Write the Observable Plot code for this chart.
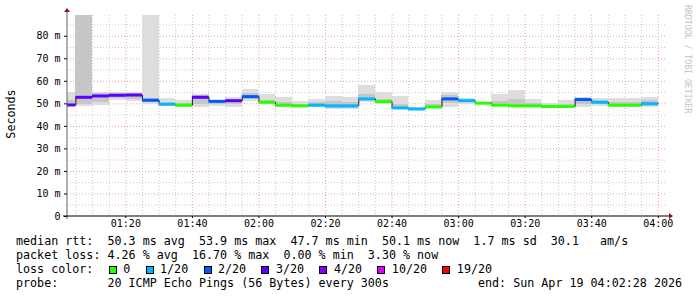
<!DOCTYPE html>
<html><head><meta charset="utf-8">
<script src="https://cdn.jsdelivr.net/npm/d3@7"></script>
<script src="https://cdn.jsdelivr.net/npm/@observablehq/plot@0.6"></script>
<style>
body{margin:0;background:#fff;}
#wrap{position:relative;width:697px;height:297px;overflow:hidden;font-family:"DejaVu Sans Mono",monospace;color:#000;}
#wrap svg{position:absolute;left:0;top:0;}
.row{position:absolute;left:16px;font-size:11.7px;line-height:14px;height:14px;white-space:pre;}
.sq{display:inline-block;width:8px;height:8px;box-sizing:border-box;border:1px solid #000;vertical-align:-1px;margin-right:6.5px;}
.lab{margin-right:15.3px;}
#ylab{position:absolute;left:11px;top:114px;font-size:11.7px;white-space:pre;transform:translate(-50%,-50%) rotate(-90deg);}
#credit{position:absolute;left:683px;top:5px;font-size:8.2px;color:#c4c4c4;writing-mode:vertical-rl;white-space:pre;}
</style></head><body><div id="wrap"></div>
<script>
// 5-minute RRD slot boundaries (each value covers slot[i] .. slot[i+1])
const slots = ["01:00","01:05","01:10","01:15","01:20","01:25","01:30","01:35","01:40","01:45",
  "01:50","01:55","02:00","02:05","02:10","02:15","02:20","02:25","02:30","02:35",
  "02:40","02:45","02:50","02:55","03:00","03:05","03:10","03:15","03:20","03:25",
  "03:30","03:35","03:40","03:45","03:50","03:55","04:00"];
// median RTT (ms)
const median = [49.5,52.9,53.5,53.8,53.9,51.6,49.8,49.4,52.9,51.1,
  51.4,53.2,50.7,49.4,49.1,49.4,49.1,49.1,52.2,51.0,
  48.2,47.7,48.6,52.2,51.4,50.3,49.4,49.1,49.1,48.8,
  48.8,51.9,50.7,49.4,49.4,50.1];
// lost pings out of 20
const lost = [3,3,3,3,3,2,1,0,3,2,
  3,2,0,0,0,1,1,1,1,0,
  1,1,0,2,1,0,0,0,0,0,
  0,2,1,0,0,1];
// smoke: min / max of the 20 pings (ms)
const smokeMin = [48.8,48.8,49.2,51.4,51.1,49.7,49.1,48.5,48.5,48.8,
  48.5,51.1,49.7,48.5,48.8,48.5,47.3,47.3,50.7,49.7,
  47.8,47.2,47.8,48.5,49.7,50.0,48.8,48.8,48.8,48.5,
  48.5,48.5,48.8,48.5,48.5,48.5];
const smokeMax = [55.1,100,55.1,54.9,55.1,100,52.2,51.4,54.1,51.7,
  52.6,56.2,54.0,52.8,51.0,51.9,53.2,52.9,58.2,55.1,
  53.2,48.3,51.4,55.1,52.2,50.8,54.1,55.9,51.9,50.0,
  51.4,52.6,52.3,52.2,52.2,52.8];
// smoke: denser inner part (ms)
const smokeLo = [49.0,49.5,50.5,52.5,52.0,50.5,49.5,49.0,49.5,49.5,
  49.5,52.0,50.0,49.0,48.9,49.0,48.0,48.0,51.5,50.3,
  48.0,47.5,48.0,50.0,50.5,50.1,49.0,49.0,49.0,48.6,
  48.6,49.5,49.5,49.0,49.0,49.0];
const smokeHi = [51.5,100,54.5,54.5,54.5,52.5,50.8,50.2,53.5,51.3,
  52.0,54.5,51.5,50.5,49.8,50.5,51.0,50.5,54.0,52.0,
  49.5,48.0,49.5,53.5,51.8,50.6,51.0,52.0,50.0,49.2,
  49.5,52.2,51.5,50.5,50.5,51.5];
const yTicks = [0,10,20,30,40,50,60,70,80];
const lossLevels = [0,1,2,3,4,10,19];
const lossLabels = ["0","1/20","2/20","3/20","4/20","10/20","19/20"];
const lossColors = ["#26ff00","#00b8ff","#0059ff","#5e00ff","#7e00ff","#dd00ff","#ff0000"];
const rowMedian = "median rtt:  50.3 ms avg  53.9 ms max  47.7 ms min  50.1 ms now  1.7 ms sd  30.1   am/s";
const rowLoss = "packet loss: 4.26 % avg  16.70 % max  0.00 % min  3.30 % now";
const rowProbe = "probe:       20 ICMP Echo Pings (56 Bytes) every 300s";
const rowEnd = "end: Sun Apr 19 04:02:28 2026";
const startTime = "01:02:28", endTime = "04:02:28";

const T = s => new Date(Date.UTC(2026,3,19,+s.slice(0,2),+s.slice(3,5),+(s.slice(6,8)||0)));
const t0 = T(startTime), t1 = T(endTime);
const colorOf = l => lossColors[d3.bisectRight(lossLevels, l) - 1];
const rows = median.map((m,i)=>({x1:T(slots[i]), x2:T(slots[i+1]), m, loss:lost[i],
  lo:smokeMin[i], hi:smokeMax[i], ilo:smokeLo[i], ihi:smokeHi[i]}));
const stepPts = rows.map(r=>({x:r.x1,y:r.m})).concat([{x:rows[rows.length-1].x2, y:rows[rows.length-1].m}]);
const minor5 = d3.utcMinute.every(5).range(t0, t1);
const xMinor = minor5.filter(d=>d.getUTCMinutes()%20!==0);
const xMajor = minor5.filter(d=>d.getUTCMinutes()%20===0);
const yMinor = d3.range(5,90,10);
const yMajor = yTicks.filter(v=>v>0);

const plot = Plot.plot({
  width:697, height:232,
  marginLeft:67, marginRight:31, marginTop:15, marginBottom:16,
  style:{fontFamily:"DejaVu Sans Mono", fontSize:"10px", background:"transparent"},
  x:{type:"utc", domain:[t0,t1]},
  y:{domain:[0,89.2]},
  marks:[
    Plot.ruleY(yMinor,{stroke:"#c8c8c8",strokeDasharray:"1,2"}),
    Plot.ruleX(xMinor,{stroke:"#c8c8c8",strokeDasharray:"1,2"}),
    Plot.ruleY(yMajor,{stroke:"#eba0a0",strokeDasharray:"1,2"}),
    Plot.ruleX(xMajor,{stroke:"#eba0a0",strokeDasharray:"1,2"}),
    Plot.rect(rows,{x1:"x1",x2:"x2",y1:"lo",y2:"hi",fill:"#dddddd",clip:true,shapeRendering:"crispEdges"}),
    Plot.rect(rows,{x1:"x1",x2:"x2",y1:"ilo",y2:"ihi",fill:"#c6c6c6",clip:true,shapeRendering:"crispEdges"}),
    Plot.line(stepPts,{x:"x",y:"y",curve:"step-after",stroke:"#202020",strokeWidth:1,clip:true}),
    Plot.ruleY(rows,{y:"m",x1:"x1",x2:"x2",stroke:d=>colorOf(d.loss),strokeWidth:3,clip:true}),
    Plot.axisY({ticks:yTicks,tickFormat:d=>d===0?"0":d+" m",tickSize:3,tickPadding:4,label:null,fontSize:10}),
    Plot.axisX({ticks:d3.utcMinute.every(20),tickFormat:d3.utcFormat("%H:%M"),tickSize:2,tickPadding:1,label:null,fontSize:10})
  ]
});

const wrap = document.getElementById("wrap");
wrap.appendChild(plot);
// axis lines with arrow heads
const xs = plot.scale("x"), ys = plot.scale("y");
const X0 = xs.apply(t0), X1 = xs.apply(t1), Y0 = ys.apply(0), Y1 = ys.apply(89.2);
const g = d3.select(plot).append("g");
g.append("line").attr("x1",X0).attr("x2",X0).attr("y1",Y0+3).attr("y2",Y1-5).attr("stroke","#606060");
g.append("line").attr("x1",X0-4).attr("x2",X1+3).attr("y1",Y0).attr("y2",Y0).attr("stroke","#000");
g.append("path").attr("d",`M${X0-3},${Y1-3}L${X0+3},${Y1-3}L${X0},${Y1-7}Z`).attr("fill","#8b1a1a");
g.append("path").attr("d",`M${X1+3},${Y0-3}L${X1+3},${Y0+3}L${X1+7},${Y0}Z`).attr("fill","#8b1a1a");

function addRow(top, html){ const d=document.createElement("div"); d.className="row"; d.style.top=top+"px"; d.innerHTML=html; wrap.appendChild(d); return d; }
addRow(233.5, rowMedian);
addRow(248, rowLoss);
let lc = "loss color:" + `<span style="display:inline-block;width:15.3px"></span>`;
lossLabels.forEach((l,i)=>{ lc += `<span class="sq" style="background:${lossColors[i]}"></span><span class="lab">${l}</span>`; });
addRow(262, lc);
addRow(276.3, rowProbe);
const e = document.createElement("div"); e.className="row"; e.style.left="478px"; e.style.top="276.3px"; e.textContent=rowEnd; wrap.appendChild(e);
const yl = document.createElement("div"); yl.id="ylab"; yl.textContent="Seconds"; wrap.appendChild(yl);
const cr = document.createElement("div"); cr.id="credit"; cr.textContent="RRDTOOL / TOBI OETIKER"; wrap.appendChild(cr);
</script></body></html>
